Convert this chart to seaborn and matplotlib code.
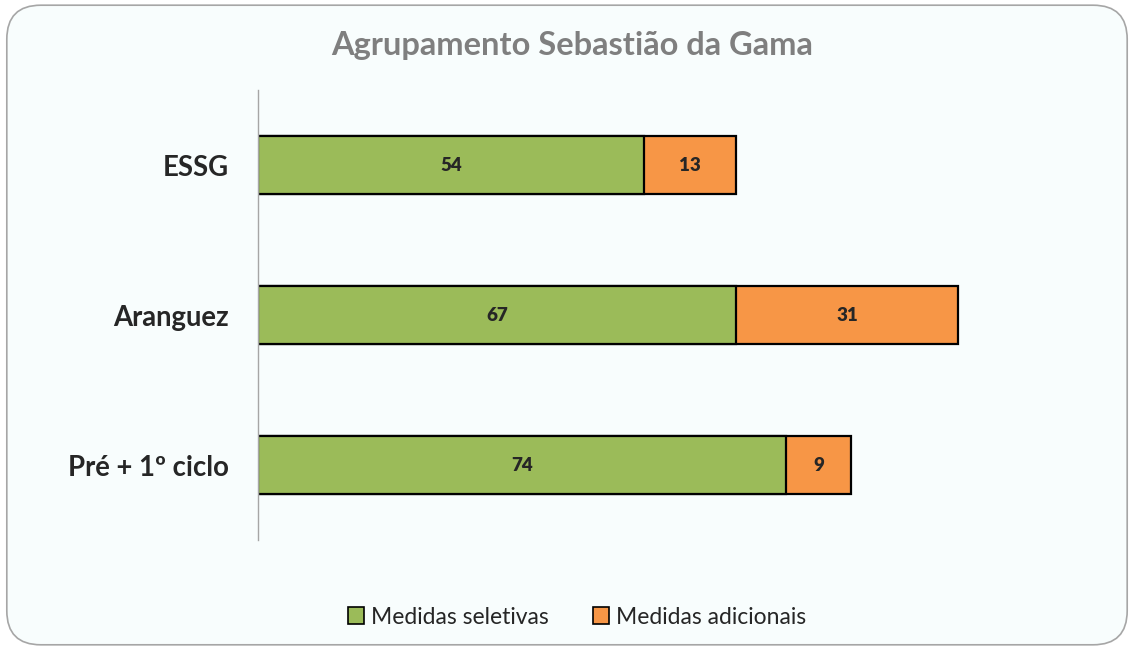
import pandas as pd
import matplotlib.pyplot as plt
import seaborn as sns
from matplotlib.patches import FancyBboxPatch, Patch

# data
schools = ["ESSG", "Aranguez", "Pré + 1º ciclo"]
seletivas = [54, 67, 74]
adicionais = [13, 31, 9]

green = "#9BBB59"
orange = "#F79646"
bg = "#F8FDFD"

df = pd.DataFrame({"escola": schools, "seletivas": seletivas, "adicionais": adicionais})
df["total"] = df["seletivas"] + df["adicionais"]

sns.set_style("white")
plt.rcParams["font.family"] = ["Lato", "DejaVu Sans"]

fig = plt.figure(figsize=(11.34, 6.5), dpi=100)
fig.patch.set_facecolor("white")
# rounded chart frame, kept behind the axes
frame = FancyBboxPatch((0.006, 0.008), 0.988, 0.984, boxstyle="round,pad=0,rounding_size=0.03",
                       transform=fig.transFigure, facecolor=bg, edgecolor="#A6A6A6", lw=1.2,
                       mutation_aspect=1134 / 650, zorder=-5)
fig.patches.append(frame)

ax = fig.add_axes([258 / 1134, 1 - 540 / 650, 857 / 1134, 450 / 650])
ax.set_facecolor("none")
ax.set_zorder(2)

# stacked bars: total (orange) under the green part
sns.barplot(data=df, y="escola", x="total", orient="h", color=orange, width=0.39,
            edgecolor="black", linewidth=1.6, saturation=1, ax=ax)
sns.barplot(data=df, y="escola", x="seletivas", orient="h", color=green, width=0.39,
            edgecolor="black", linewidth=1.6, saturation=1, ax=ax)

for i, (s, a) in enumerate(zip(seletivas, adicionais)):
    ax.text(s / 2, i, str(s), ha="center", va="center", fontsize=13.5, fontweight="heavy")
    ax.text(s + a / 2, i, str(a), ha="center", va="center", fontsize=13.5, fontweight="heavy")

ax.set_xlim(0, 120)
ax.set_ylim(2.5, -0.5)
ax.set_xticks([])
ax.set_xlabel("")
ax.set_ylabel("")
for side in ["top", "right", "bottom"]:
    ax.spines[side].set_visible(False)
ax.spines["left"].set_color("#A6A6A6")
ax.spines["left"].set_linewidth(1.0)
ax.tick_params(axis="y", length=0, pad=21)
for lbl in ax.get_yticklabels():
    lbl.set_fontsize(19.8)
    lbl.set_fontweight("bold")

fig.text(572 / 1134, 1 - 45 / 650, "Agrupamento Sebastião da Gama", ha="center", va="center",
         fontsize=23.5, fontweight="bold", color="#7F7F7F")

handles = [Patch(facecolor=green, edgecolor="black", lw=1.2, label="Medidas seletivas"),
           Patch(facecolor=orange, edgecolor="black", lw=1.2, label="Medidas adicionais")]
fig.legend(handles=handles, loc="center", bbox_to_anchor=(577 / 1134, 1 - 617 / 650), ncol=2,
           frameon=False, fontsize=16.5, handlelength=0.7, handleheight=0.7, handletextpad=0.3,
           columnspacing=1.9)

fig.savefig("out.png", dpi=100, facecolor="white")
